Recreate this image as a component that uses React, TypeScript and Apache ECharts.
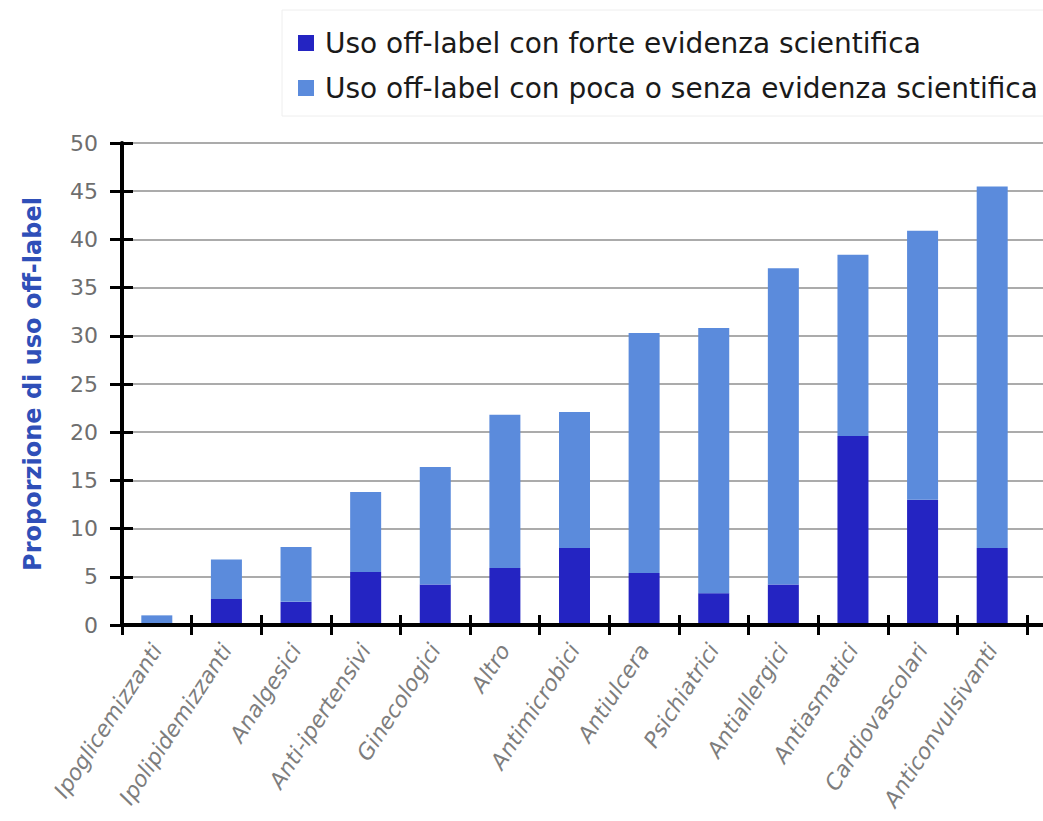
import React, { useEffect, useRef } from "react";
import * as echarts from "echarts";

const categories = [
  "Ipoglicemizzanti",
  "Ipolipidemizzanti",
  "Analgesici",
  "Anti-ipertensivi",
  "Ginecologici",
  "Altro",
  "Antimicrobici",
  "Antiulcera",
  "Psichiatrici",
  "Antiallergici",
  "Antiasmatici",
  "Cardiovascolari",
  "Anticonvulsivanti",
];

const strongEvidence = [0, 2.7, 2.4, 5.5, 4.2, 5.9, 8.0, 5.4, 3.3, 4.2, 19.6, 13.0, 8.0];
const weakEvidence = [1.0, 4.1, 5.7, 8.3, 12.2, 15.9, 14.1, 24.9, 27.5, 32.8, 18.8, 27.9, 37.5];

const yTicks = { min: 0, max: 50, interval: 5 };

const seriesNames = [
  "Uso off-label con forte evidenza scientifica",
  "Uso off-label con poca o senza evidenza scientifica",
];
const yAxisTitle = "Proporzione di uso off-label";

const DARK = "#2424c2";
const LIGHT = "#5b8bdc";

export default function App() {
  const ref = useRef<HTMLDivElement>(null);
  useEffect(() => {
    document.body.style.margin = "0";
    if (!ref.current) return;
    const chart = echarts.init(ref.current, null, { renderer: "svg" });
    const gridBox = { left: 122, top: 143, bottom: 196 };
    chart.setOption({
      animation: false,
      backgroundColor: "#ffffff",
      legend: {
        orient: "vertical",
        left: 282,
        top: 10,
        data: seriesNames,
        icon: "rect",
        itemWidth: 16,
        itemHeight: 16,
        itemGap: 17,
        padding: [19, 6, 14, 16],
        borderColor: "#eeeeee",
        borderWidth: 1,
        textStyle: { fontFamily: "DejaVu Sans", fontSize: 28, color: "#1a1a1a", padding: [0, 0, 0, 6] },
      },
      grid: [
        { ...gridBox, right: 16 },
        { ...gridBox, right: 0 },
      ],
      xAxis: [
        {
          type: "category",
          gridIndex: 0,
          data: categories,
          position: "bottom",
          z: 5,
          axisLine: { show: true, lineStyle: { color: "#000", width: 4 } },
          axisTick: { show: true, interval: 0, length: 10, lineStyle: { color: "#000", width: 3 } },
          axisLabel: {
            interval: 0,
            rotate: 57,
            margin: 21,
            fontFamily: "DejaVu Sans",
            fontStyle: "italic",
            fontSize: 22,
            color: "#7d7d7d",
          },
        },
        {
          type: "category",
          gridIndex: 0,
          data: categories,
          position: "bottom",
          z: 5,
          axisLine: { show: false },
          axisTick: { show: true, inside: true, interval: 0, length: 10, lineStyle: { color: "#000", width: 3 } },
          axisLabel: { show: false },
        },
        {
          type: "value",
          gridIndex: 1,
          position: "bottom",
          min: 0,
          max: 1,
          z: 5,
          axisLine: { show: true, lineStyle: { color: "#000", width: 4 } },
          axisTick: { show: false },
          axisLabel: { show: false },
          splitLine: { show: false },
        },
      ],
      yAxis: [
        {
          type: "value",
          gridIndex: 0,
          position: "left",
          ...yTicks,
          z: 5,
          axisLine: { show: true, lineStyle: { color: "#000", width: 4 } },
          axisTick: { show: true, length: 12, lineStyle: { color: "#000", width: 3 } },
          axisLabel: { fontFamily: "DejaVu Sans", fontSize: 22, color: "#6e6e6e", margin: 24 },
          splitLine: { show: false },
          name: yAxisTitle,
          nameLocation: "middle",
          nameGap: 77,
          nameTextStyle: { fontFamily: "DejaVu Sans", fontWeight: "bold", fontSize: 24, color: "#2f4fb8" },
        },
        {
          type: "value",
          gridIndex: 0,
          position: "left",
          ...yTicks,
          z: 5,
          axisLine: { show: false },
          axisTick: { show: true, inside: true, length: 11, lineStyle: { color: "#000", width: 3 } },
          axisLabel: { show: false },
          splitLine: { show: false },
        },
        {
          type: "value",
          gridIndex: 1,
          position: "left",
          ...yTicks,
          axisLine: { show: false },
          axisTick: { show: false },
          axisLabel: { show: false },
          splitLine: { show: true, lineStyle: { color: "#8f8f8f", width: 1.5 } },
        },
      ],
      series: [
        {
          name: seriesNames[0],
          type: "bar",
          stack: "total",
          xAxisIndex: 0,
          yAxisIndex: 0,
          barWidth: 31,
          itemStyle: { color: DARK },
          data: strongEvidence,
        },
        {
          name: seriesNames[1],
          type: "bar",
          stack: "total",
          xAxisIndex: 0,
          yAxisIndex: 0,
          barWidth: 31,
          itemStyle: { color: LIGHT },
          data: weakEvidence,
        },
      ],
    });
    return () => chart.dispose();
  }, []);
  return <div ref={ref} style={{ width: 1043, height: 821 }} />;
}
